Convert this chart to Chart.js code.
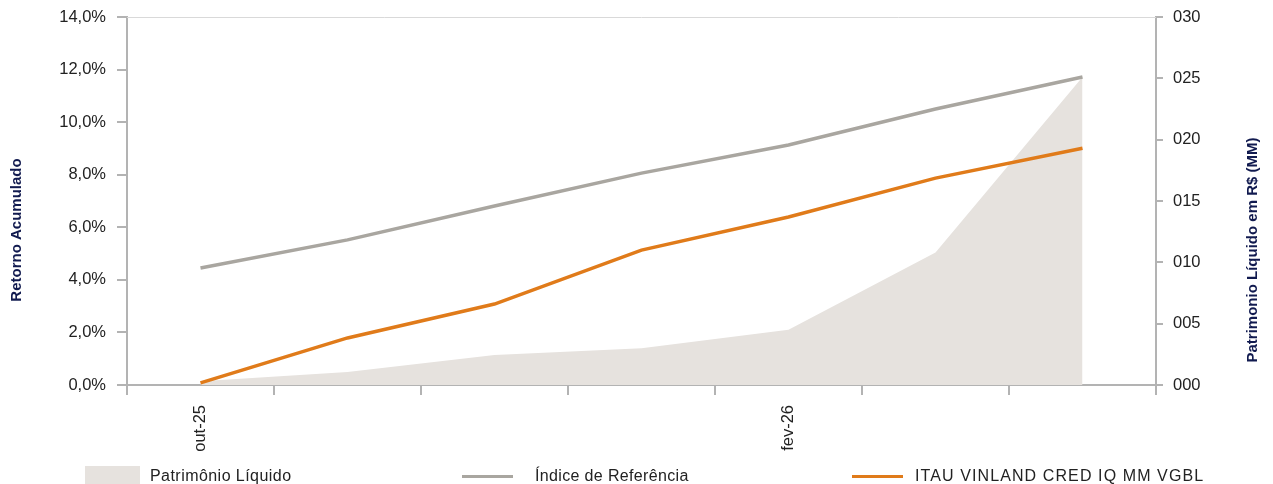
<!DOCTYPE html>
<html>
<head>
<meta charset="utf-8">
<script src="https://cdn.jsdelivr.net/npm/chart.js@4/dist/chart.umd.min.js"></script>
<style>
  body { margin: 0; background: #fff; font-family: "Liberation Sans", Arial, sans-serif; }
  #wrap { position: relative; width: 1273px; height: 484px; overflow: hidden; }
  .leg { position: absolute; top: 466px; height: 20px; font-size: 16px; color: #222; line-height: 20px; white-space: nowrap; }
  .leg .box { position: absolute; left: 0; top: 0; width: 55px; height: 20px; background: #e6e2de; }
  .leg .ln { position: absolute; left: 0; top: 9px; width: 51px; height: 3px; }
  .leg span.t { position: absolute; top: 0; }
</style>
</head>
<body>
<div id="wrap">
  <canvas id="chart" width="1273" height="484"></canvas>
  <div class="leg" style="left:85px"><div class="box"></div><span class="t" style="left:65px;letter-spacing:0.45px">Patrimônio Líquido</span></div>
  <div class="leg" style="left:462px"><div class="ln" style="background:#a9a6a0"></div><span class="t" style="left:73px;letter-spacing:0.35px">Índice de Referência</span></div>
  <div class="leg" style="left:852px"><div class="ln" style="background:#e07b1a"></div><span class="t" style="left:63px;letter-spacing:1.1px">ITAU VINLAND CRED IQ MM VGBL</span></div>
</div>
<script>
const meses = ['out-25', 'nov-25', 'dez-25', 'jan-26', 'fev-26', 'mar-26', 'abr-26'];
const mesesVisiveis = ['out-25', 'fev-26'];
const indiceReferencia = [4.45, 5.52, 6.81, 8.06, 9.13, 10.50, 11.72];
const fundo = [0.08, 1.79, 3.08, 5.13, 6.39, 7.87, 9.01];
const patrimonio = [0.3, 1.06, 2.44, 3.0, 4.5, 10.8, 25.1];

const $ = (id) => document.getElementById(id);
const FONT = '"Liberation Sans", Arial, sans-serif';
const pct = (v) => Number(v).toFixed(1).replace('.', ',') + '%';
const pl = (v) => String(Math.round(v)).padStart(3, '0');

function tituloVertical(ctx, text, x, y) {
  ctx.save();
  ctx.fillStyle = '#111a4f';
  ctx.font = 'bold 15px ' + FONT;
  ctx.textAlign = 'center';
  ctx.textBaseline = 'middle';
  ctx.translate(x, y);
  ctx.rotate(-Math.PI / 2);
  ctx.fillText(text, 0, 0);
  ctx.restore();
}

function fixaLargura(largura) {
  return (s) => {
    s.width = largura;
    s.paddingTop = 0;
    s.paddingBottom = 0;
  };
}

const extras = {
  id: 'extras',
  beforeDatasetsDraw(chart) {
    const { ctx, chartArea: a } = chart;
    ctx.save();
    ctx.strokeStyle = '#d9d9d9';
    ctx.lineWidth = 1;
    ctx.beginPath();
    ctx.moveTo(a.left, a.top + 0.5);
    ctx.lineTo(a.right, a.top + 0.5);
    ctx.stroke();
    ctx.restore();
  },
  afterDraw(chart) {
    tituloVertical(chart.ctx, 'Retorno Acumulado', 17, 230);
    tituloVertical(chart.ctx, 'Patrimonio Líquido em R$ (MM)', 1253, 250);
  }
};

new Chart($('chart'), {
  type: 'line',
  data: {
    labels: meses,
    datasets: [
      {
        label: 'ITAU VINLAND CRED IQ MM VGBL',
        data: fundo,
        borderColor: '#e07b1a',
        borderWidth: 3.5,
        pointRadius: 0,
        tension: 0,
        yAxisID: 'y',
        order: 1
      },
      {
        label: 'Índice de Referência',
        data: indiceReferencia,
        borderColor: '#a9a6a0',
        borderWidth: 3.5,
        pointRadius: 0,
        tension: 0,
        yAxisID: 'y',
        order: 2
      },
      {
        label: 'Patrimônio Líquido',
        data: patrimonio,
        borderWidth: 0,
        borderColor: 'rgba(0,0,0,0)',
        backgroundColor: '#e6e2de',
        fill: 'origin',
        pointRadius: 0,
        tension: 0,
        yAxisID: 'y1',
        order: 3
      }
    ]
  },
  options: {
    responsive: false,
    animation: false,
    layout: { padding: { top: 17, left: 0, right: 0, bottom: 0 } },
    plugins: { legend: { display: false }, tooltip: { enabled: false } },
    scales: {
      x: {
        offset: true,
        grid: { offset: true, drawOnChartArea: false, color: '#b3b3b3', lineWidth: 2, tickLength: 10 },
        border: { color: '#b3b3b3', width: 2 },
        ticks: {
          autoSkip: false,
          maxRotation: 90,
          minRotation: 90,
          padding: 10,
          color: '#222',
          font: { family: FONT, size: 16.5 },
          callback: (v, i) => mesesVisiveis.includes(meses[i]) ? meses[i] : ''
        },
        afterFit: (s) => { s.height = 99; s.paddingLeft = 0; s.paddingRight = 0; }
      },
      y: {
        position: 'left',
        min: 0,
        max: 14,
        grid: { drawOnChartArea: false, color: '#b3b3b3', lineWidth: 2, tickLength: 10 },
        border: { color: '#b3b3b3', width: 2 },
        ticks: {
          stepSize: 2,
          padding: 11,
          color: '#222',
          font: { family: FONT, size: 16.5 },
          callback: pct
        },
        afterFit: fixaLargura(127)
      },
      y1: {
        position: 'right',
        min: 0,
        max: 30,
        grid: { drawOnChartArea: false, color: '#b3b3b3', lineWidth: 2, tickLength: 7 },
        border: { color: '#b3b3b3', width: 2 },
        ticks: {
          stepSize: 5,
          padding: 10,
          color: '#222',
          font: { family: FONT, size: 16.5 },
          callback: pl
        },
        afterFit: fixaLargura(117)
      }
    }
  },
  plugins: [extras]
});
</script>
</body>
</html>
